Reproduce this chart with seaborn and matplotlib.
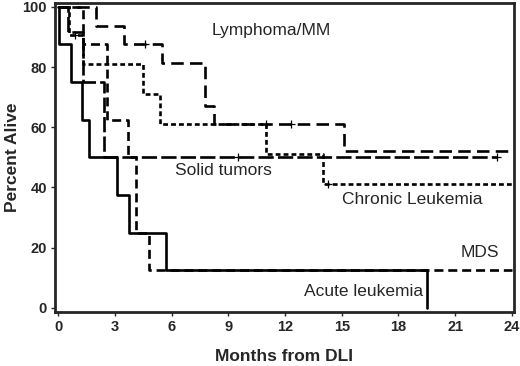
import matplotlib
matplotlib.use("Agg")
import matplotlib.pyplot as plt
import seaborn as sns
import pandas as pd

# Kaplan-Meier step curves (months, percent alive)
acute_t = [0, 0.05, 0.7, 1.25, 1.65, 3.1, 3.75, 5.7, 19.5]
acute_s = [100, 87.5, 75, 62.5, 50, 37.5, 25, 12.5, 0]

mds_t = [0, 1.3, 2.6, 3.7, 4.1, 4.8, 24]
mds_s = [100, 87.5, 62.5, 50, 25, 12.5, 12.5]

chronic_t = [0, 0.6, 1.3, 4.5, 5.4, 11.0, 14.0, 24]
chronic_s = [100, 90.5, 81, 71, 61, 51, 41, 41]

lymph_t = [0, 2.0, 3.5, 5.5, 7.75, 8.25, 15.1, 24]
lymph_s = [100, 93.75, 87.5, 81.25, 67, 61, 52, 52]

solid_t = [0, 0.5, 1.3, 2.4, 23.2]
solid_s = [100, 91.7, 75, 50, 50]

# censored observations
cens_t = [0.9, 14.3, 4.6, 11.0, 12.3, 9.5, 23.2]
cens_s = [90.5, 41, 87.5, 61, 61, 50, 50]

x_ticks = [0, 3, 6, 9, 12, 15, 18, 21, 24]
y_ticks = [0, 20, 40, 60, 80, 100]

sns.set_style("ticks")
plt.rcParams["lines.scale_dashes"] = False
plt.rcParams["font.family"] = ["Liberation Sans", "DejaVu Sans"]

fig = plt.figure(figsize=(5.2, 3.66), dpi=100)
ax = fig.add_axes([0.106, 0.148, 0.882, 0.844])

curves = [
    (acute_t, acute_s, ""),
    (mds_t, mds_s, (6.5, 3.5)),
    (chronic_t, chronic_s, (3.5, 2.2)),
    (lymph_t, lymph_s, (9, 4.5)),
    (solid_t, solid_s, (11, 3)),
]
for t, s, dash in curves:
    df = pd.DataFrame({"t": t, "s": s})
    sns.lineplot(data=df, x="t", y="s", ax=ax, drawstyle="steps-post",
                 estimator=None, sort=False, color="black", lw=1.9)
    if dash:
        ax.lines[-1].set_dashes(dash)

ax.plot(cens_t, cens_s, ls="none", marker="+", color="black", ms=6, mew=0.9)

ax.text(8.1, 92, "Lymphoma/MM", fontsize=12.5, va="center")
ax.text(6.2, 45.5, "Solid tumors", fontsize=12.5, va="center")
ax.text(15.0, 36, "Chronic Leukemia", fontsize=12.5, va="center")
ax.text(21.3, 18.5, "MDS", fontsize=12.5, va="center")
ax.text(13.0, 5.3, "Acute leukemia", fontsize=12.5, va="center")

ax.set_xlim(-0.16, 24.1)
ax.set_ylim(-1.3, 101.3)
ax.set_xticks(x_ticks)
ax.set_yticks(y_ticks)
ax.tick_params(length=3, width=1, labelsize=10.5, pad=3)
for lab in ax.get_xticklabels() + ax.get_yticklabels():
    lab.set_fontweight("bold")
for sp in ax.spines.values():
    sp.set_visible(True)
    sp.set_linewidth(2)
ax.set_xlabel("Months from DLI", fontsize=12.5, fontweight="bold", labelpad=11)
ax.set_ylabel("Percent Alive", fontsize=12.5, fontweight="bold", labelpad=2)

fig.savefig("out.png", dpi=100)
